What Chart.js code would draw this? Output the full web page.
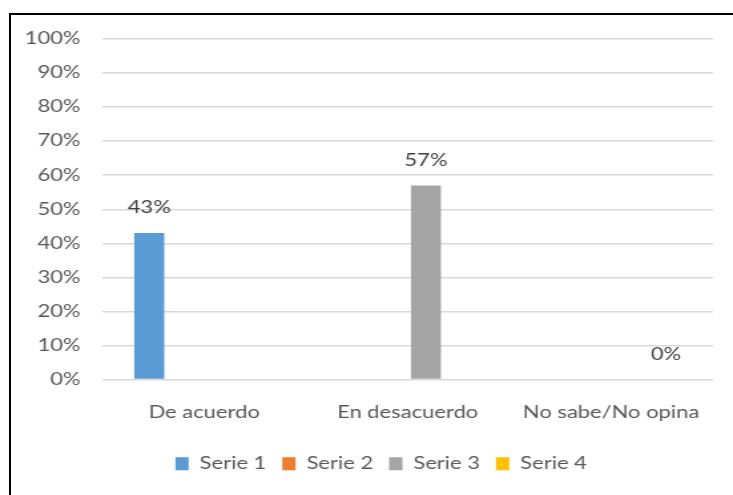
<!DOCTYPE html>
<html><head><meta charset="utf-8">
<script src="https://cdn.jsdelivr.net/npm/chart.js@4/dist/chart.umd.min.js"></script>
<style>
html,body{margin:0;padding:0;background:#fff;}
#wrap{position:relative;width:733px;height:495px;overflow:hidden;background:#fff;}
#frame{position:absolute;left:9px;top:13px;width:800px;height:600px;border:2px solid #000;box-sizing:border-box;pointer-events:none;}
#c{position:absolute;left:0;top:0;width:733px;height:495px;}
</style></head>
<body><div id="wrap"><canvas id="c" width="551" height="495" style="width:733px;height:495px"></canvas><div id="frame"></div></div>
<script>
const categories = ["De acuerdo", "En desacuerdo", "No sabe/No opina"];
const seriesNames = ["Serie 1", "Serie 2", "Serie 3", "Serie 4"];
const serie1 = [43, null, null];
const serie2 = [null, null, null];
const serie3 = [null, 57, null];
const serie4 = [null, null, 0];
const yTicks = [0,10,20,30,40,50,60,70,80,90,100];
const colors = ["#5B9BD5", "#ED7D31", "#A5A5A5", "#FFC000"];
const FONT = "Lato, 'Open Sans', sans-serif";
const FS = 16.5;

const labelPlugin = {
  id: 'valLabels',
  afterLayout(chart) {
    const lg = chart.legend;
    if (lg) { lg.left += 10.5; lg.right += 10.5; }
  },
  afterDatasetsDraw(chart) {
    const ctx = chart.ctx;
    ctx.save();
    ctx.font = FS + "px " + FONT;
    ctx.fillStyle = "#404040";
    ctx.textAlign = "center";
    ctx.textBaseline = "middle";
    chart.data.datasets.forEach((ds, di) => {
      const meta = chart.getDatasetMeta(di);
      meta.data.forEach((el, i) => {
        const v = ds.data[i];
        if (v === null || v === undefined) return;
        ctx.fillText(v + "%", el.x, el.y - 25);
      });
    });
    ctx.restore();
  }
};

new Chart(document.getElementById('c'), {
  type: 'bar',
  data: {
    labels: categories,
    datasets: [serie1, serie2, serie3, serie4].map((d, i) => ({
      label: seriesNames[i], data: d, backgroundColor: colors[i],
      categoryPercentage: 0.72, barPercentage: 0.82
    }))
  },
  options: {
    responsive: false, animation: false, devicePixelRatio: 1,
    layout: { padding: { left: 15, right: 14, top: 39, bottom: 13 } },
    plugins: {
      tooltip: { enabled: false },
      legend: {
        position: 'bottom',
        labels: { boxWidth: 10, boxHeight: 13, padding: 12, color: "#595959", font: { family: FONT, size: FS } }
      }
    },
    scales: {
      x: {
        grid: { display: false, drawTicks: false },
        border: { display: false },
        ticks: { padding: 23, color: "#595959", font: { family: FONT, size: FS } },
        afterFit(s) { s.height = 64; }
      },
      y: {
        min: 0, max: 100,
        afterBuildTicks(s) { s.ticks = yTicks.map(v => ({ value: v })); },
        grid: { color: "#d9d9d9", lineWidth: 1.5, drawTicks: false },
        border: { display: false },
        ticks: { padding: 16.5, color: "#595959", font: { family: FONT, size: FS }, callback: v => v + "%" },
        afterFit(s) { s.width = 62; }
      }
    }
  },
  plugins: [labelPlugin]
});
</script></body></html>
